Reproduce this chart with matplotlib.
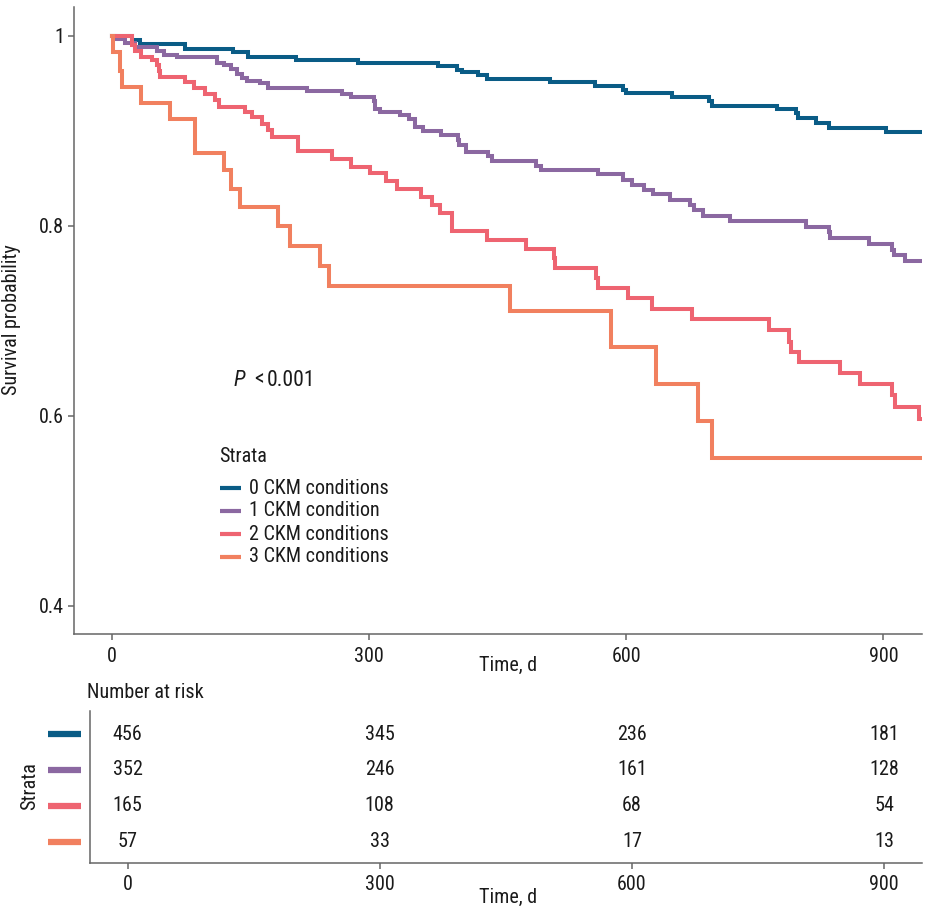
import matplotlib
matplotlib.use('Agg')
import matplotlib.pyplot as plt
import matplotlib.transforms as mtransforms

plt.rcParams['font.family'] = ['Roboto Condensed', 'Liberation Sans Narrow', 'Roboto', 'DejaVu Sans']

# ---------------- data ----------------
strata = ['0 CKM conditions', '1 CKM condition', '2 CKM conditions', '3 CKM conditions']
colors = ['#0a5c86', '#8b68a1', '#ee6471', '#f1805f']

t0 = [0, 23, 32, 85, 141, 158, 215, 287, 380, 402, 408, 427, 437, 511, 563, 596, 599,
      653, 697, 700, 776, 798, 800, 821, 836, 903, 960]
s0 = [1, .995, .991, .986, .983, .977, .974, .971, .968, .964, .962, .958, .954, .951,
      .947, .943, .939, .935, .931, .926, .923, .918, .913, .908, .903, .898, .898]

t1 = [0, 3, 15, 26, 52, 60, 75, 122, 130, 139, 145, 151, 157, 172, 182, 227, 268, 279,
      305, 307, 312, 336, 346, 353, 363, 384, 403, 405, 413, 439, 443, 495, 500, 567,
      596, 606, 620, 631, 651, 674, 679, 689, 721, 810, 836, 838, 883, 910, 912, 925, 960]
s1 = [1, .996, .992, .988, .984, .980, .977, .971, .969, .965, .960, .955, .952, .950,
      .945, .942, .938, .935, .931, .923, .920, .916, .912, .904, .900, .895, .890, .885,
      .877, .873, .868, .863, .858, .854, .848, .843, .837, .833, .827, .822, .816, .810,
      .805, .799, .793, .787, .781, .774, .769, .763, .763]

t2 = [0, 23, 26, 34, 46, 52, 54, 56, 85, 95, 108, 120, 124, 155, 163, 175, 182, 186,
      217, 256, 279, 301, 319, 332, 360, 373, 383, 396, 397, 437, 483, 515, 517, 564,
      567, 602, 630, 676, 767, 790, 792, 802, 849, 873, 910, 914, 942, 960]
s2 = [1, .990, .984, .977, .974, .969, .963, .956, .951, .945, .938, .932, .925, .920,
      .914, .907, .901, .893, .878, .870, .862, .855, .847, .839, .830, .822, .813, .803,
      .794, .785, .775, .766, .755, .745, .734, .724, .712, .702, .690, .678, .667, .656,
      .645, .633, .622, .609, .597, .597]

t3 = [0, 1, 9, 11, 34, 67, 97, 130, 138, 149, 194, 207, 242, 253, 464, 582, 635, 683,
      700, 960]
s3 = [1, .983, .963, .946, .929, .912, .876, .858, .839, .820, .800, .779, .758, .736,
      .710, .672, .633, .594, .555, .555]

times = [t0, t1, t2, t3]
surv = [s0, s1, s2, s3]

risk_times = [0, 300, 600, 900]
risk0 = [456, 345, 236, 181]
risk1 = [352, 246, 161, 128]
risk2 = [165, 108, 68, 54]
risk3 = [57, 33, 17, 13]
risk = [risk0, risk1, risk2, risk3]

x_ticks = [0, 300, 600, 900]
y_ticks = [0.4, 0.6, 0.8, 1.0]
y_ticklabels = ['0.4', '0.6', '0.8', '1']

# ---------------- figure ----------------
W, H = 930, 914
fig = plt.figure(figsize=(W / 100, H / 100), dpi=100)

def fx(px):
    return px / W

def fy(py):
    return 1 - py / H

axis_col = '#666666'
text_col = '#1a1a1a'

# main axes
ax = fig.add_axes([fx(73.7), fy(634.3), fx(922 - 73.7), (634.3 - 7) / H])
for t, s, c in zip(times, surv, colors):
    ax.step(t, s, where='post', color=c, lw=2.9, solid_joinstyle='miter')
ax.set_xlim(-45, 945)
ax.set_ylim(0.37, 1.03)
ax.set_xticks(x_ticks)
ax.set_yticks(y_ticks)
ax.set_yticklabels(y_ticklabels)
for sp in ['top', 'right']:
    ax.spines[sp].set_visible(False)
for sp in ['left', 'bottom']:
    ax.spines[sp].set_color(axis_col)
    ax.spines[sp].set_linewidth(1.1)
ax.tick_params(axis='both', colors=axis_col, labelcolor=text_col, labelsize=14.5,
               length=4, width=1.1)
ax.tick_params(axis='x', pad=5)
ax.tick_params(axis='y', pad=3)

fig.text(fx(12), fy(320), 'Survival probability', rotation=90, ha='center', va='center',
         fontsize=14.5, color=text_col)
fig.text(fx(508), fy(665), 'Time, d', ha='center', va='center', fontsize=14.5,
         color=text_col)

# p-value
fig.text(fx(234), fy(380), 'P', fontsize=15.5, style='italic',
         ha='left', va='center', color=text_col)
fig.text(fx(254), fy(380), '<', fontsize=15.5,
         ha='left', va='center', color=text_col)
fig.text(fx(267), fy(380), '0.001', fontsize=15.5,
         ha='left', va='center', color=text_col)

# legend (title, keys, labels)
fig.text(fx(219), fy(457), 'Strata', ha='left', va='center', fontsize=14.5, color=text_col)
leg_y = [488, 511, 534, 557]
for lab, c, yy in zip(strata, colors, leg_y):
    fig.add_artist(plt.Line2D([fx(220), fx(241)], [fy(yy), fy(yy)], color=c, lw=3.0,
                              solid_capstyle='butt', transform=fig.transFigure))
    fig.text(fx(249), fy(yy), lab, ha='left', va='center', fontsize=14.5, color=text_col)

# risk table
ax2 = fig.add_axes([fx(89.7), fy(862.7), fx(922 - 89.7), (862.7 - 711) / H])
ax2.set_xlim(-45, 945)
ax2.set_ylim(0.42, 4.64)
trans = mtransforms.blended_transform_factory(fig.transFigure, ax2.transData)
for i, (row, c) in enumerate(zip(risk, colors)):
    yrow = 4 - i
    for t, n in zip(risk_times, row):
        ax2.text(t, yrow, str(n), ha='center', va='center', fontsize=14.5, color=text_col)
    ax2.plot([fx(48), fx(81)], [yrow, yrow], transform=trans, color=c, lw=4.5,
             solid_capstyle='butt', clip_on=False)
ax2.set_xticks(x_ticks)
ax2.set_yticks([])
for sp in ['top', 'right']:
    ax2.spines[sp].set_visible(False)
for sp in ['left', 'bottom']:
    ax2.spines[sp].set_color(axis_col)
    ax2.spines[sp].set_linewidth(1.1)
ax2.tick_params(axis='x', colors=axis_col, labelcolor=text_col, labelsize=14.5,
                length=4, width=1.1, pad=5)

fig.text(fx(87), fy(692), 'Number at risk', ha='left', va='center', fontsize=14.5,
         color=text_col)
fig.text(fx(30), fy(786), 'Strata', rotation=90, ha='center', va='center',
         fontsize=14.5, color=text_col)
fig.text(fx(508), fy(897), 'Time, d', ha='center', va='center', fontsize=14.5,
         color=text_col)

fig.savefig('out.png', dpi=100)
